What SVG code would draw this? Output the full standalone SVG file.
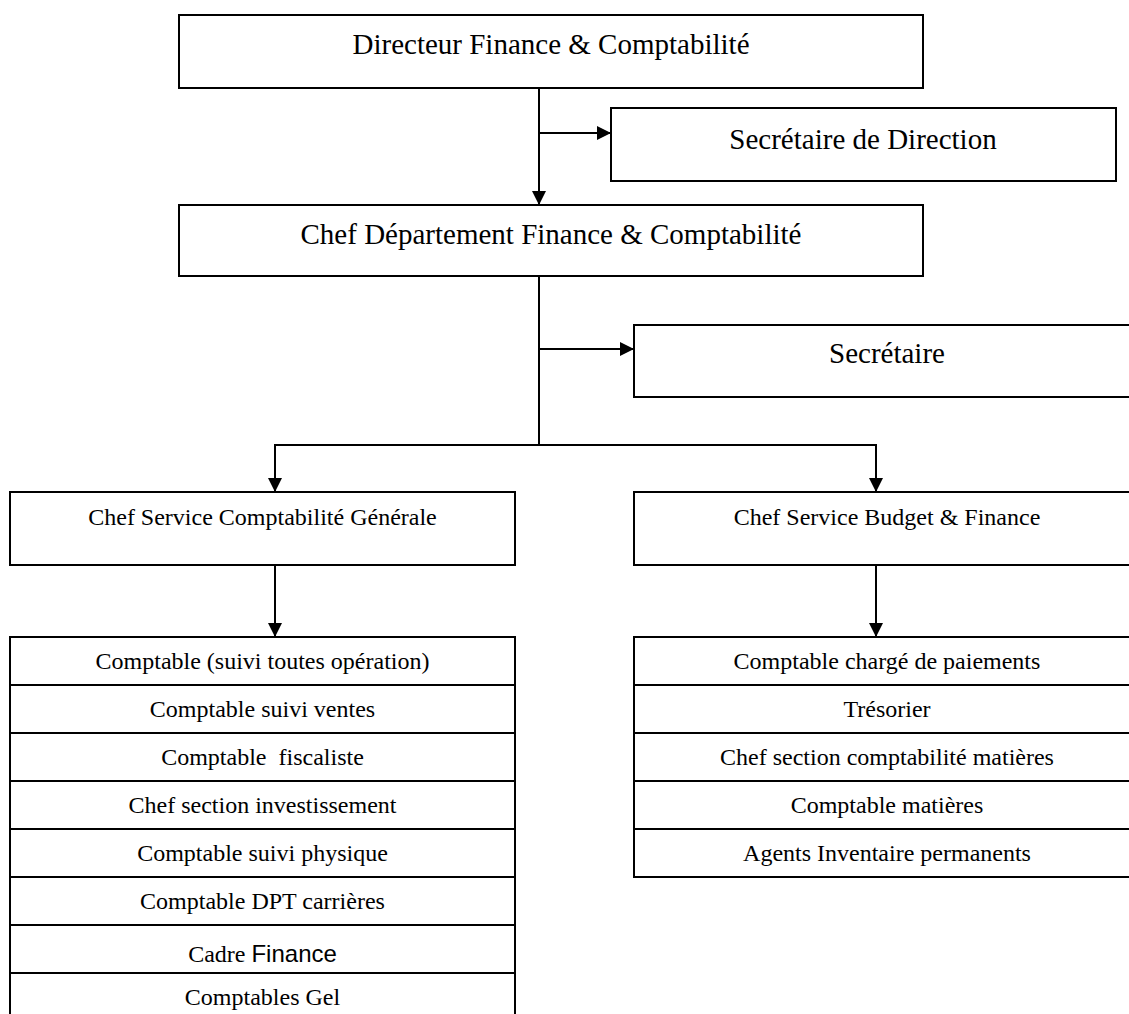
<svg xmlns="http://www.w3.org/2000/svg" width="1129" height="1014" viewBox="0 0 1129 1014">
  <style>
    .box { fill: #ffffff; stroke: #000000; stroke-width: 2; }
    .row { fill: none; stroke: #000000; stroke-width: 2; }
    .big { font-family: "Liberation Serif", "Times New Roman", serif; font-size: 29px; fill: #000000; text-anchor: middle; }
    .mid { font-family: "Liberation Serif", "Times New Roman", serif; font-size: 24px; fill: #000000; text-anchor: middle; white-space: pre; }
    .sans { font-family: "Liberation Sans", Arial, sans-serif; font-size: 24px; }
    .link { fill: none; stroke: #000000; stroke-width: 2; }
  </style>
  <defs>
    <marker id="arrow" viewBox="0 0 10 10" refX="10" refY="5" markerUnits="userSpaceOnUse" markerWidth="14" markerHeight="14" orient="auto">
      <path d="M0,0 L10,5 L0,10 z" fill="#000000"/>
    </marker>
  </defs>
  <rect width="1129" height="1014" fill="#ffffff"/>

  <!-- connectors -->
  <g id="connectors">
    <line class="link" x1="539" y1="88" x2="539" y2="205" marker-end="url(#arrow)"/>
    <line class="link" x1="539" y1="133" x2="611" y2="133" marker-end="url(#arrow)"/>
    <line class="link" x1="539" y1="276" x2="539" y2="446"/>
    <line class="link" x1="539" y1="349" x2="634" y2="349" marker-end="url(#arrow)"/>
    <line class="link" x1="274" y1="445" x2="877" y2="445"/>
    <line class="link" x1="275" y1="445" x2="275" y2="492" marker-end="url(#arrow)"/>
    <line class="link" x1="876" y1="445" x2="876" y2="492" marker-end="url(#arrow)"/>
    <line class="link" x1="275" y1="565" x2="275" y2="637" marker-end="url(#arrow)"/>
    <line class="link" x1="876" y1="565" x2="876" y2="637" marker-end="url(#arrow)"/>
  </g>

  <g id="directeur">
    <rect class="box" x="179" y="15" width="744" height="73"/>
    <text class="big" x="551" y="54">Directeur Finance &amp; Comptabilité</text>
  </g>

  <g id="secretaire-direction">
    <rect class="box" x="611" y="108" width="505" height="73"/>
    <text class="big" x="863" y="149">Secrétaire de Direction</text>
  </g>

  <g id="chef-departement">
    <rect class="box" x="179" y="205" width="744" height="71"/>
    <text class="big" x="551" y="244">Chef Département Finance &amp; Comptabilité</text>
  </g>

  <g id="secretaire">
    <rect class="box" x="634" y="325" width="506" height="72"/>
    <text class="big" x="887" y="363">Secrétaire</text>
  </g>

  <g id="service-comptabilite">
    <rect class="box" x="10" y="492" width="505" height="73"/>
    <text class="mid" x="262.5" y="525">Chef Service Comptabilité Générale</text>
  </g>

  <g id="service-budget">
    <rect class="box" x="634" y="492" width="506" height="73"/>
    <text class="mid" x="887" y="525">Chef Service Budget &amp; Finance</text>
  </g>

  <!-- staff list under general accounting -->
  <g id="equipe-comptabilite">
    <rect class="box" x="10" y="637" width="505" height="390"/>
    <line class="row" x1="10" y1="685" x2="515" y2="685"/>
    <line class="row" x1="10" y1="733" x2="515" y2="733"/>
    <line class="row" x1="10" y1="781" x2="515" y2="781"/>
    <line class="row" x1="10" y1="829" x2="515" y2="829"/>
    <line class="row" x1="10" y1="877" x2="515" y2="877"/>
    <line class="row" x1="10" y1="925" x2="515" y2="925"/>
    <line class="row" x1="10" y1="973" x2="515" y2="973"/>
    <text class="mid" x="262.5" y="669">Comptable (suivi toutes opération)</text>
    <text class="mid" x="262.5" y="717">Comptable suivi ventes</text>
    <text class="mid" x="262.5" y="765">Comptable  fiscaliste</text>
    <text class="mid" x="262.5" y="813">Chef section investissement</text>
    <text class="mid" x="262.5" y="861">Comptable suivi physique</text>
    <text class="mid" x="262.5" y="909">Comptable DPT carrières</text>
    <text class="mid" x="262.5" y="962">Cadre <tspan class="sans">Finance</tspan></text>
    <text class="mid" x="262.5" y="1005">Comptables Gel</text>
  </g>

  <!-- staff list under budget & finance -->
  <g id="equipe-budget">
    <rect class="box" x="634" y="637" width="506" height="240"/>
    <line class="row" x1="634" y1="685" x2="1140" y2="685"/>
    <line class="row" x1="634" y1="733" x2="1140" y2="733"/>
    <line class="row" x1="634" y1="781" x2="1140" y2="781"/>
    <line class="row" x1="634" y1="829" x2="1140" y2="829"/>
    <text class="mid" x="887" y="669">Comptable chargé de paiements</text>
    <text class="mid" x="887" y="717">Trésorier</text>
    <text class="mid" x="887" y="765">Chef section comptabilité matières</text>
    <text class="mid" x="887" y="813">Comptable matières</text>
    <text class="mid" x="887" y="861">Agents Inventaire permanents</text>
  </g>
</svg>
